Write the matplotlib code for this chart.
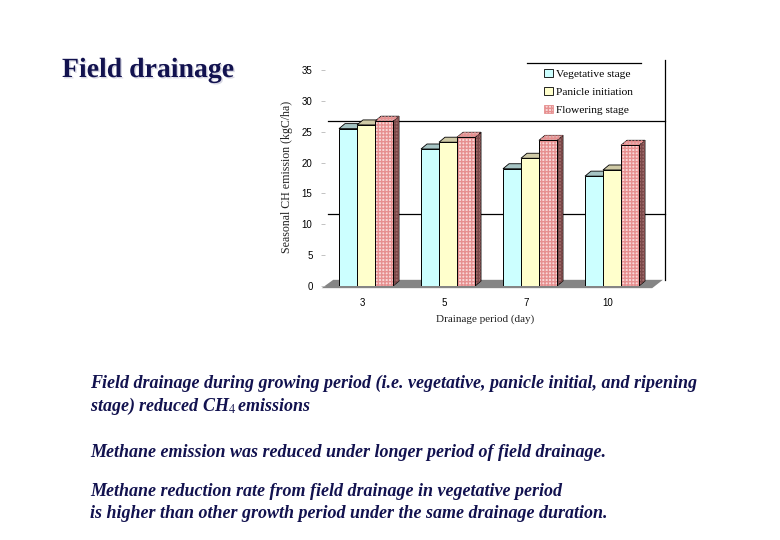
import matplotlib.pyplot as plt
import matplotlib.patheffects as pe
from matplotlib.patches import Polygon, Patch

# Data (seasonal CH4 emission, kgC/ha)
periods = ['3', '5', '7', '10']
vegetative = [25.5, 22.2, 19.0, 17.8]
panicle = [26.1, 23.3, 20.7, 18.8]
flowering = [26.7, 24.1, 23.6, 22.8]
series_names = ['Vegetative stage', 'Panicle initiation', 'Flowering stage']
yticks = [0, 5, 10, 15, 20, 25, 30, 35]

plt.rcParams['mathtext.fontset'] = 'stix'
serif = 'Liberation Serif'
navy = '#12124f'

fig = plt.figure(figsize=(7.8, 5.4), dpi=100)
ax = fig.add_axes([325 / 780, 1 - 286 / 540, 340 / 780, 216 / 540])
ax.set_xlim(-0.5, -0.5 + 340 / 82)
ax.set_ylim(0, 35)

w = 18 / 82          # bar width in data units
dx = 6 / 82          # 3d depth
dy = 5 / 6.17

# styles: front, top, side, hatch colour
styles = [
    ('#ccffff', '#a6c4c4', '#7fa0a0', None),
    ('#ffffcc', '#cfcaa6', '#aca886', None),
    ('#f8d8d8', '#e2b4b4', '#a06a6a', '#e69090'),
]

# floor
floor = Polygon([(-0.54, -0.35), (3.49, -0.35), (3.62, 1.0), (-0.40, 1.0)],
                closed=True, facecolor='#858585', edgecolor='none', clip_on=False, zorder=1)
ax.add_patch(floor)

# odd frame lines of the original slide
ax.plot([-0.46, 3.646], [26.7, 26.7], color='black', lw=0.9, zorder=0.5, clip_on=False)
ax.plot([-0.46, 3.646], [11.7, 11.7], color='black', lw=0.9, zorder=0.5, clip_on=False)
ax.plot([3.646, 3.646], [1.0, 36.6], color='black', lw=0.9, zorder=0.5, clip_on=False)
ax.plot([1.963, 3.354], [36.1, 36.1], color='black', lw=0.9, zorder=0.5, clip_on=False)

z = 2
for g in range(len(periods)):
    for k, values in enumerate([vegetative, panicle, flowering]):
        front, top, side, hatch = styles[k]
        c = g + (k - 1) * w
        h = values[g]
        x0, x1 = c - w / 2, c + w / 2
        side_poly = [(x1, 0), (x1, h), (x1 + dx, h + dy), (x1 + dx, dy)]
        top_poly = [(x0, h), (x1, h), (x1 + dx, h + dy), (x0 + dx, h + dy)]
        ax.add_patch(Polygon(side_poly, facecolor=side, edgecolor='black', lw=0.6, zorder=z))
        ax.add_patch(Polygon(top_poly, facecolor=top, edgecolor='black', lw=0.6, zorder=z))
        ax.bar(c, h, width=w, color=front, edgecolor='none', zorder=z + 0.1)
        if hatch:
            ax.bar(c, h, width=w, color='none', edgecolor=hatch, hatch='+++++', lw=0, zorder=z + 0.2)
            ax.add_patch(Polygon(top_poly, facecolor='none', edgecolor=hatch, hatch='+++++', lw=0, zorder=z + 0.2))
            ax.add_patch(Polygon(side_poly, facecolor='none', edgecolor='#7a4848', hatch='+++++', lw=0, zorder=z + 0.2))
        ax.bar(c, h, width=w, color='none', edgecolor='black', lw=0.7, zorder=z + 0.3)
        z += 1

for spine in ax.spines.values():
    spine.set_visible(False)

ax.set_xticks([g - 0.05 for g in range(len(periods))])
ax.set_xticklabels(periods, fontsize=7, family='Liberation Sans')
ax.set_yticks(yticks)
ax.set_yticklabels([str(t) for t in yticks], fontsize=7, family='Liberation Sans')
ax.tick_params(axis='x', length=0, pad=9)
ax.tick_params(axis='y', length=3, width=0.5, color='#aaaaaa', pad=6)

fig.text(287 / 780, 1 - 177 / 540, 'Seasonal CH emission (kgC/ha)', rotation=90,
         ha='center', va='center', fontsize=8.6, family=serif, color='#222222')
fig.text(485 / 780, 1 - 319 / 540, 'Drainage period (day)', ha='center', va='center',
         fontsize=8, family=serif, color='#222222')

# legend
handles = [Patch(facecolor=styles[0][0], edgecolor='black', lw=0.6),
           Patch(facecolor=styles[1][0], edgecolor='black', lw=0.6),
           Patch(facecolor=styles[2][0], edgecolor=styles[2][3], hatch='+++++', lw=0.6)]
fig.legend(handles, series_names, loc='upper left', bbox_to_anchor=(539 / 780, 1 - 64 / 540),
           frameon=False, prop={'family': serif, 'size': 8.2}, handlelength=0.8,
           handleheight=0.8, handletextpad=0.3, labelspacing=0.68, borderaxespad=0)

# slide title
fig.text(62 / 780, 1 - 77 / 540, 'Field drainage', fontsize=20, fontweight='bold',
         family=serif, color=navy, va='baseline',
         path_effects=[pe.SimplePatchShadow(offset=(1, -1), shadow_rgbFace='#b0b0c8', alpha=0.5),
                       pe.Normal()])

# slide text
lines = [
    ('Field drainage during growing period (i.e. vegetative, panicle initial, and ripening', 388),
    (r'stage) reduced CH$_4\,$emissions', 411),
    ('Methane emission was reduced under longer period of field drainage.', 457),
    ('Methane reduction rate from field drainage in vegetative period', 496),
    ('is higher than other growth period under the same drainage duration.', 518),
]
for txt, yb in lines:
    fig.text(90 / 780, 1 - yb / 540, txt, fontsize=13, fontweight='bold', fontstyle='italic',
             family=serif, color=navy, va='baseline')

plt.savefig('out.png', dpi=100)
